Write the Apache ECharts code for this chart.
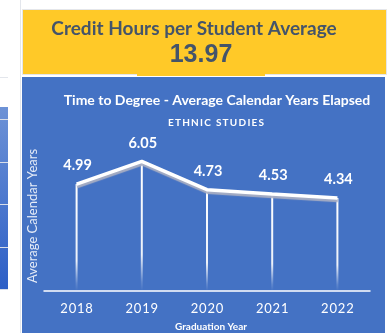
<!DOCTYPE html>
<html>
<head>
<meta charset="utf-8">
<script src="https://cdn.jsdelivr.net/npm/echarts@6/dist/echarts.min.js"></script>
<style>
  html, body { margin: 0; padding: 0; background: #ffffff; }
  #chart { width: 387px; height: 333px; }
</style>
</head>
<body>
<div id="chart"></div>
<script>
// Graduation years and average calendar years elapsed to degree
const years = ['2018', '2019', '2020', '2021', '2022'];
const avgYears = [4.99, 6.05, 4.73, 4.53, 4.34];

// Header card
const headerTitle = 'Credit Hours per Student Average';
const headerValue = '13.97';

const chartTitle = 'Time to Degree - Average Calendar Years Elapsed';
const chartSubtitle = 'ETHNIC STUDIES';
const yAxisName = 'Average Calendar Years';
const xAxisName = 'Graduation Year';

const spaced = (s, sep) => s.split('').join(sep || '\u2009');

const BLUE = '#4472C4';
const YELLOW = '#FFC928';
const SLATE = '#44546A';
const FONT = 'Lato, "Open Sans", sans-serif';

const chart = echarts.init(document.getElementById('chart'), null, { renderer: 'canvas' });

chart.setOption({
  animation: false,
  backgroundColor: '#ffffff',
  graphic: [
    // neighbouring panel on the left
    { type: 'line', shape: { x1: 20.5, y1: 0, x2: 20.5, y2: 333 }, style: { stroke: '#e3e6ec', lineWidth: 1 }, z: -10 },
    { type: 'line', shape: { x1: 0, y1: 77.5, x2: 8, y2: 77.5 }, style: { stroke: '#e3e6ec', lineWidth: 1 }, z: -10 },
    {
      type: 'rect', shape: { x: 0, y: 107, width: 8, height: 182 }, z: -10,
      style: { fill: new echarts.graphic.LinearGradient(0, 0, 0, 1, [
        { offset: 0, color: '#6d92d6' }, { offset: 1, color: '#2d5fc6' }
      ]) }
    },
    ...[119, 162, 204, 247, 289].map(y => ({
      type: 'line', shape: { x1: 0, y1: y + 0.5, x2: 8, y2: y + 0.5 },
      style: { stroke: '#d9dee8', lineWidth: 1 }, z: -9
    })),
    // header card
    { type: 'rect', shape: { x: 22.5, y: 9.5, width: 364, height: 65 }, style: { fill: YELLOW, stroke: '#e4e6ea', lineWidth: 1 }, z: -5 },
    { type: 'rect', shape: { x: 137, y: 74, width: 128, height: 2 }, style: { fill: YELLOW }, z: -5 },
    {
      type: 'text', x: 194, y: 29, z: 5,
      style: { text: headerTitle, fill: SLATE, font: 'bold 19px ' + FONT, textAlign: 'center', textVerticalAlign: 'middle' }
    },
    {
      type: 'text', x: 201, y: 55, z: 5,
      style: { text: headerValue, fill: SLATE, font: 'bold 25px "Liberation Sans", Arial, sans-serif', textAlign: 'center', textVerticalAlign: 'middle' }
    },
    // chart panel
    { type: 'rect', shape: { x: 22, y: 77, width: 363, height: 256 }, style: { fill: BLUE }, z: -5 },
    {
      type: 'text', x: 217, y: 100, z: 5,
      style: { text: chartTitle, fill: '#ffffff', font: 'bold 14px ' + FONT, textAlign: 'center', textVerticalAlign: 'middle' }
    },
    {
      type: 'text', x: 216, y: 123, z: 5,
      style: { text: spaced(chartSubtitle.split(' ')[0]) + '\u2002' + spaced(chartSubtitle.split(' ')[1]), fill: '#ffffff', font: 'bold 10px ' + FONT, textAlign: 'center', textVerticalAlign: 'middle' }
    }
  ],
  grid: { left: 44, right: 17, top: 141, bottom: 32, containLabel: false },
  xAxis: {
    type: 'category',
    data: years,
    boundaryGap: true,
    name: xAxisName,
    nameLocation: 'middle',
    nameGap: 31,
    nameTextStyle: { color: '#ffffff', fontWeight: 'bold', fontSize: 10, fontFamily: FONT, padding: [0, 0, 0, 8] },
    axisLine: { show: true, lineStyle: { color: '#ffffff', width: 1.5 } },
    axisTick: { show: false },
    axisLabel: {
      color: '#ffffff', fontSize: 13, fontFamily: FONT, margin: 11,
      formatter: v => spaced(v, '\u200A')
    }
  },
  yAxis: {
    type: 'value',
    min: 0,
    max: 7,
    name: yAxisName,
    nameLocation: 'middle',
    nameGap: 5,
    nameTextStyle: { color: '#e6ecf7', fontSize: 13, fontFamily: FONT },
    axisLine: { show: false },
    axisTick: { show: false },
    axisLabel: { show: false },
    splitLine: { show: false }
  },
  series: [
    {
      // drop lines from each point toward the axis, carrying the value labels
      type: 'bar',
      data: avgYears,
      barWidth: 2,
      silent: true,
      itemStyle: {
        color: new echarts.graphic.LinearGradient(0, 0, 0, 1, [
          { offset: 0, color: 'rgba(255,255,255,1)' },
          { offset: 0.72, color: 'rgba(255,255,255,0.9)' },
          { offset: 0.93, color: 'rgba(255,255,255,0.15)' },
          { offset: 1, color: 'rgba(255,255,255,0)' }
        ])
      },
      label: {
        show: true,
        position: 'top',
        distance: 11,
        offset: [1, 0],
        color: '#ffffff',
        fontWeight: 'bold',
        fontSize: 14.5,
        fontFamily: FONT,
        formatter: '{c}'
      },
      z: 1
    },
    {
      type: 'line',
      data: avgYears,
      symbol: 'none',
      lineStyle: {
        color: '#ffffff', width: 3.5,
        shadowColor: 'rgba(170,175,195,0.95)', shadowBlur: 1, shadowOffsetY: 2.5, shadowOffsetX: 0.5
      },
      z: 3
    }
  ]
});
</script>
</body>
</html>
